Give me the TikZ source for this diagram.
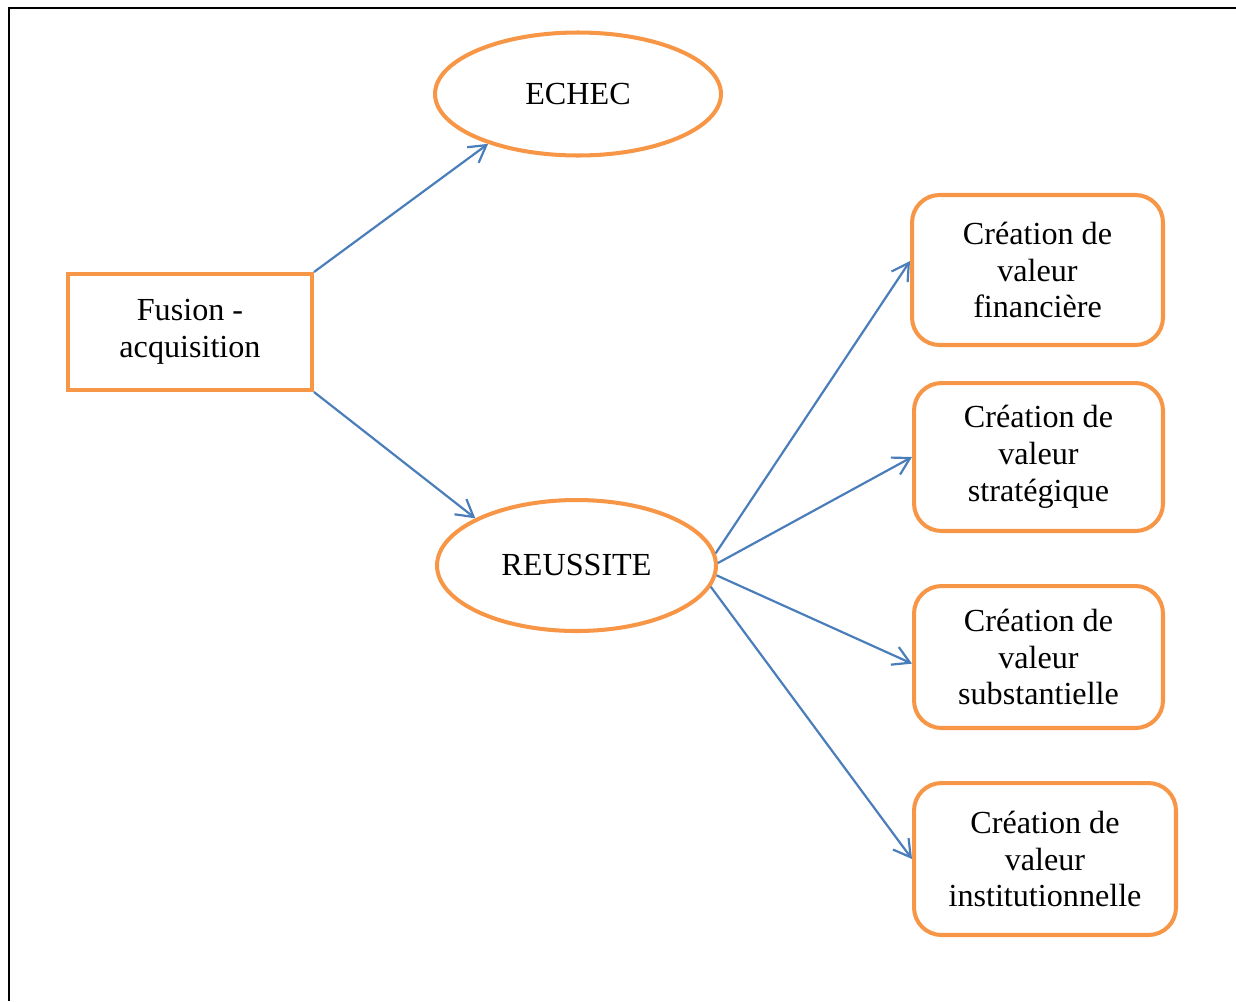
\documentclass[tikz,border=0pt]{standalone}
\usepackage{fontspec}
\setmainfont{Liberation Serif}
\usetikzlibrary{shapes.geometric,arrows.meta}
\definecolor{orng}{HTML}{F79646}
\definecolor{arrblue}{HTML}{4A7EBB}
\begin{document}
\begin{tikzpicture}[x=0.02cm,y=-0.02cm,
  every node/.style={font=\fontsize{18.3}{21}\selectfont, align=center, inner sep=0pt, text=black},
  sqbox/.style={draw=orng, line width=2.3pt, rectangle},
  ellbox/.style={draw=orng, line width=2.3pt, ellipse},
  rbox/.style={draw=orng, line width=2.3pt, rectangle, rounded corners=0.55cm},
  arr/.style={draw=arrblue, line width=1.25pt, -{Straight Barb[length=9.5pt,width=11pt]}},
  framel/.style={draw=black, line width=1.1pt}]
\useasboundingbox (0,0) rectangle (1236,1001);
\draw[framel] (9,1001) -- (9,8) -- (1236,8);

\node[sqbox, minimum width=4.88cm, minimum height=2.32cm] (fus) at (190,332) {Fusion -\\acquisition};
\node[ellbox, minimum width=5.72cm, minimum height=2.46cm] (echec) at (578,94) {ECHEC};
\node[ellbox, minimum width=5.58cm, minimum height=2.62cm] (reu) at (576.5,565.5) {REUSSITE};

\node[rbox, minimum width=5.02cm, minimum height=3.0cm] (fin) at (1037.5,270) {Création de\\valeur\\financière};
\node[rbox, minimum width=4.98cm, minimum height=2.96cm] (str) at (1038.5,457) {Création de\\valeur\\stratégique};
\node[rbox, minimum width=4.98cm, minimum height=2.84cm] (sub) at (1038.5,657) {Création de\\valeur\\substantielle};
\node[rbox, minimum width=5.24cm, minimum height=3.04cm] (ins) at (1045,859) {Création de\\valeur\\institutionnelle};

\draw[arr] (fus.north east) -- (echec.209);
\draw[arr] (fus.south east) -- (reu.155);
\draw[arr] (reu.5) -- (fin.176);
\draw[arr] (reu.1) -- (str.west);
\draw[arr] (reu.-4) -- (sub.183);
\draw[arr] (reu.-9) -- (ins.west);
\end{tikzpicture}
\end{document}
